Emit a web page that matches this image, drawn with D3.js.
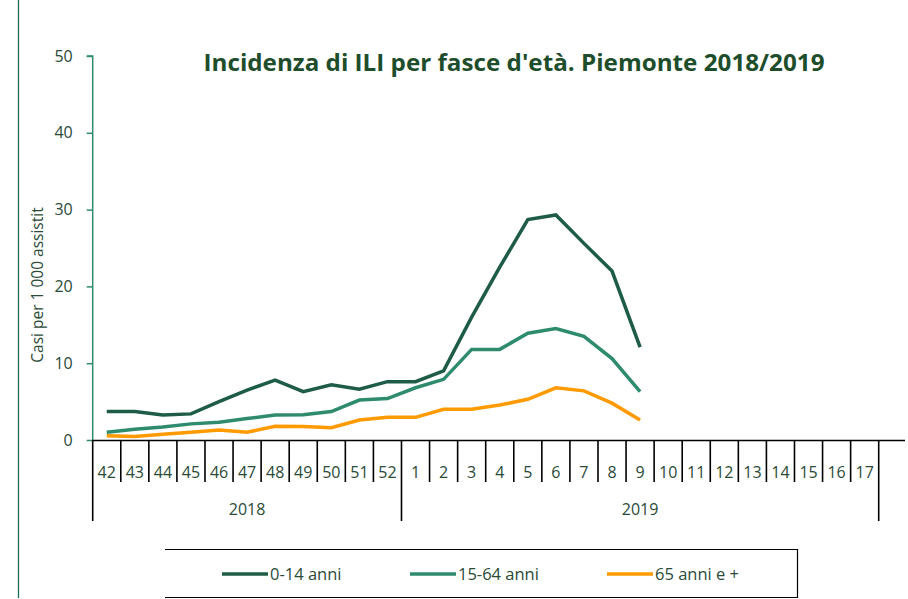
<!DOCTYPE html>
<html>
<head>
<meta charset="utf-8">
<script src="https://cdn.jsdelivr.net/npm/d3@7"></script>
<style>
  html, body { margin: 0; padding: 0; background: #fff; }
  svg { display: block; }
  text { font-family: "Open Sans", "Noto Sans", sans-serif; }
</style>
</head>
<body>
<svg id="chart" width="908" height="599"></svg>
<script>
// ---- data ----
const weeks = ["42","43","44","45","46","47","48","49","50","51","52",
               "1","2","3","4","5","6","7","8","9","10","11","12","13","14","15","16","17"];
const years = [
  { label: "2018", first: "42", last: "52" },
  { label: "2019", first: "1", last: "17" }
];
const yTicks = [0, 10, 20, 30, 40, 50];
const seriesNames = ["0-14 anni", "15-64 anni", "65 anni e +"];
const age0_14  = [3.7, 3.7, 3.25, 3.4, 5.0, 6.5, 7.8, 6.3, 7.2, 6.6, 7.6, 7.6, 9.0, 16.0, 22.5, 28.7, 29.3, 25.6, 22.0, 12.1];
const age15_64 = [1.0, 1.4, 1.7, 2.1, 2.3, 2.8, 3.25, 3.3, 3.7, 5.2, 5.4, 6.8, 7.9, 11.8, 11.8, 13.9, 14.5, 13.5, 10.6, 6.3];
const age65    = [0.55, 0.45, 0.75, 1.0, 1.3, 1.0, 1.8, 1.75, 1.6, 2.6, 2.95, 2.95, 4.0, 4.0, 4.55, 5.3, 6.8, 6.4, 4.8, 2.6];
const seriesValues = [age0_14, age15_64, age65];
const seriesColors = ["#1e5c46", "#2e8b6e", "#ff9a00"];
const title = "Incidenza di ILI per fasce d'età. Piemonte 2018/2019";
const yTitle = "Casi per 1 000 assistit";

// ---- layout ----
const svg = d3.select("#chart");
const textColor = "#2b4a38";
const x = d3.scaleBand().domain(weeks).range([92.7, 878.7]).padding(0);
const y = d3.scaleLinear().domain([0, 50]).range([440, 56]);

// left decorative line
svg.append("line").attr("x1", 18.5).attr("x2", 18.5).attr("y1", 0).attr("y2", 598)
  .attr("stroke", "#1e6b4e").attr("stroke-width", 1.3);

// title
svg.append("text").attr("x", 514).attr("y", 71).attr("text-anchor", "middle")
  .attr("font-size", 24).attr("font-weight", "bold").attr("fill", "#1e4d2b")
  .attr("textLength", 621).attr("lengthAdjust", "spacingAndGlyphs")
  .text(title);

// y axis
const yAxis = d3.axisLeft(y).tickValues(yTicks).tickSize(6).tickPadding(14);
const gy = svg.append("g").attr("transform", "translate(92.7,0)").call(yAxis);
gy.select(".domain").attr("stroke", "#2e8b6e").attr("stroke-width", 1.5).attr("d", `M-6,${y(50)}H0V${y(0)}`);
gy.selectAll(".tick line").attr("stroke", "#2e8b6e").attr("stroke-width", 1.5);
gy.selectAll(".tick text").attr("fill", textColor).attr("font-size", 16).attr("font-family", "Open Sans, sans-serif");

// y title
svg.append("text").attr("transform", "translate(43,285) rotate(-90)")
  .attr("text-anchor", "middle").attr("font-size", 15.5).attr("fill", textColor)
  .text(yTitle);

// x axis baseline
svg.append("line").attr("x1", 92.7).attr("x2", 905).attr("y1", 440.5).attr("y2", 440.5)
  .attr("stroke", "#000").attr("stroke-width", 1.3);

// week labels
const xAxis = d3.axisBottom(x).tickSize(0).tickPadding(0);
const gx = svg.append("g").attr("transform", "translate(0,440)").call(xAxis);
gx.select(".domain").remove();
gx.selectAll(".tick text").attr("fill", textColor).attr("font-size", 16)
  .attr("dy", 0).attr("y", 38).attr("font-family", "Open Sans, sans-serif");

// separators
const boundaries = weeks.map(w => x(w)).concat([x(weeks[weeks.length - 1]) + x.bandwidth()]);
const yearEdges = new Set(years.flatMap(yr => [x(yr.first), x(yr.last) + x.bandwidth()]).map(v => v.toFixed(2)));
svg.append("g").selectAll("line").data(boundaries).join("line")
  .attr("x1", d => d).attr("x2", d => d)
  .attr("y1", 440)
  .attr("y2", d => yearEdges.has(d.toFixed(2)) ? 521 : 482)
  .attr("stroke", "#000").attr("stroke-width", 1.6);

// year labels
svg.append("g").selectAll("text").data(years).join("text")
  .attr("x", d => (x(d.first) + x(d.last) + x.bandwidth()) / 2)
  .attr("y", 515).attr("text-anchor", "middle").attr("font-size", 16).attr("fill", textColor)
  .text(d => d.label);

// lines
const line = d3.line()
  .x((d, i) => x(weeks[i]) + x.bandwidth() / 2)
  .y(d => y(d));
svg.append("g").selectAll("path").data(seriesValues).join("path")
  .attr("d", d => line(d))
  .attr("fill", "none")
  .attr("stroke", (d, i) => seriesColors[i])
  .attr("stroke-width", 3.5)
  .attr("stroke-linejoin", "miter");

// legend box (top, right, bottom)
svg.append("path").attr("d", "M165,549.5H797.5V597.5H165")
  .attr("fill", "none").attr("stroke", "#000").attr("stroke-width", 1.2);

const legendX = [222, 410, 607];
const lg = svg.append("g").selectAll("g").data(seriesNames).join("g")
  .attr("transform", (d, i) => `translate(${legendX[i]},574)`);
lg.append("line").attr("x1", 0).attr("x2", 46).attr("y1", 0).attr("y2", 0)
  .attr("stroke", (d, i) => seriesColors[i]).attr("stroke-width", 3.5);
lg.append("text").attr("x", 48).attr("y", 5.5).attr("font-size", 16.5).attr("fill", textColor)
  .text(d => d);
</script>
</body>
</html>
